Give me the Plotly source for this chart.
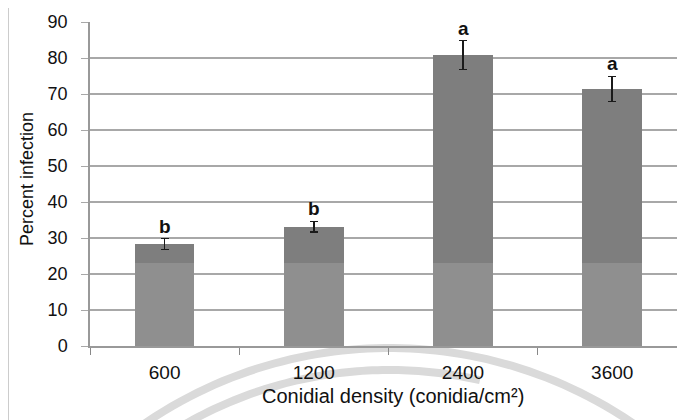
import numpy as np
import plotly.graph_objects as go

# ---- data ----
categories = ["600", "1200", "2400", "3600"]
percent_infection = [28.3, 33.1, 80.8, 71.4]
error_values = [1.5, 1.5, 4.0, 3.5]
group_letters = ["b", "b", "a", "a"]
base_level = 23.0          # lighter lower band seen in the bars
y_ticks = [0, 10, 20, 30, 40, 50, 60, 70, 80, 90]

OFF = 8                    # browser default body margin
W, H = 685 - OFF, 420 - OFF
L, R, T, B = 90 - OFF, 0, 22 - OFF, 74
pw, ph = W - L - R, H - T - B
cat_px = 149.2

lower = [min(base_level, v) for v in percent_infection]
upper = [v - lo for v, lo in zip(percent_infection, lower)]

fig = go.Figure()
fig.add_trace(go.Bar(x=categories, y=lower, width=0.4,
                     marker=dict(color="#8f8f8f", line=dict(width=0)),
                     showlegend=False, hoverinfo="skip"))
fig.add_trace(go.Bar(x=categories, y=upper, width=0.4,
                     marker=dict(color="#7e7e7e", line=dict(width=0)),
                     error_y=dict(type="data", array=error_values, visible=True,
                                  color="#1a1a1a", thickness=1.5, width=4),
                     showlegend=False))

for i, (v, e, t) in enumerate(zip(percent_infection, error_values, group_letters)):
    fig.add_annotation(x=i, y=v + e, text=f"<b>{t}</b>", showarrow=False, yanchor="bottom",
                       xanchor="center", yshift=0,
                       font=dict(family="Liberation Sans, Arial", size=19, color="#111"))

def px2paper(px, py):
    # px, py in browser-window pixels
    return (px - OFF - L) / pw, (H - B - (py - OFF)) / ph

# outer frame of the figure
x0, y0 = px2paper(8, 5)
x1, y1 = px2paper(700, 440)
fig.add_shape(type="line", xref="paper", yref="paper", x0=x0, y0=y0, x1=x0, y1=y1,
              line=dict(color="#9a9a9a", width=1))
fig.add_shape(type="line", xref="paper", yref="paper", x0=x0, y0=y0, x1=x1, y1=y0,
              line=dict(color="#9a9a9a", width=1))

# faint watermark arcs
def arc_path(cx, cy, r, xa, xb, n=60):
    xs = np.linspace(xa, xb, n)
    pts = []
    for xx in xs:
        yy = cy - np.sqrt(max(r * r - (xx - cx) ** 2, 0))
        pts.append(px2paper(xx, yy))
    return "M " + " L ".join(f"{a:.5f},{b:.5f}" for a, b in pts)

fig.add_shape(type="path", xref="paper", yref="paper", layer="below",
              path=arc_path(389, 781, 433, 138, 640), line=dict(color="#dadada", width=8))
fig.add_shape(type="path", xref="paper", yref="paper", layer="below",
              path=arc_path(389, 781, 411, 178, 480), line=dict(color="#dadada", width=8))

fig.add_annotation(xref="paper", yref="paper", x=px2paper(27, 0)[0], y=px2paper(0, 179)[1],
                   text="Percent infection", textangle=-90, showarrow=False,
                   xanchor="center", yanchor="middle",
                   font=dict(family="Liberation Sans, Arial", size=18, color="#111"))
fig.add_annotation(xref="paper", yref="paper", x=px2paper(393, 0)[0], y=px2paper(0, 396)[1],
                   text="Conidial density (conidia/cm²)", showarrow=False,
                   xanchor="center", yanchor="middle",
                   font=dict(family="Liberation Sans, Arial", size=20, color="#111"))

fig.update_layout(
    width=W, height=H, autosize=False, barmode="stack", bargap=0.6,
    margin=dict(l=L, r=R, t=T, b=B, autoexpand=False),
    paper_bgcolor="white", plot_bgcolor="white",
    font=dict(family="Liberation Sans, Arial", color="#111"),
    xaxis=dict(type="category", range=[-0.5, -0.5 + pw / cat_px],
               showline=True, linecolor="#999", linewidth=1.5,
               ticks="outside", tickson="boundaries", ticklen=7, tickcolor="#888",
               showgrid=False, tickfont=dict(size=19, color="#111"),
               ticklabelstandoff=8),
    yaxis=dict(range=[0, 90], tickvals=y_ticks, showline=True, linecolor="#999",
               linewidth=1.5, ticks="outside", ticklen=7, tickcolor="#a8a8a8",
               showgrid=True, gridcolor="#a8a8a8", gridwidth=1.5, zeroline=False,
               tickfont=dict(size=18, color="#111"), ticklabelstandoff=10),
)

fig.write_html("out.html")
